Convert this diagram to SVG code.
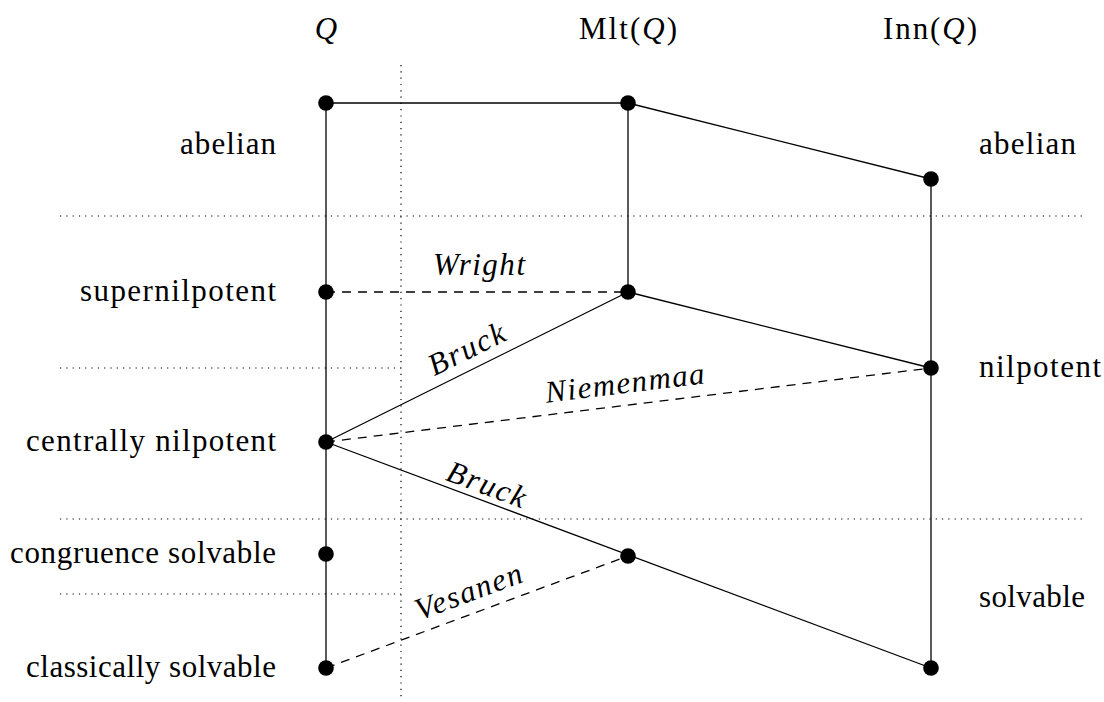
<svg xmlns="http://www.w3.org/2000/svg" width="1104" height="702" viewBox="0 0 1104 702">
<style>
text{font-family:'Liberation Serif','Tinos','Times New Roman','DejaVu Serif','Noto Serif',serif;font-size:31px;fill:#000}
.i{font-style:italic}
.e{text-anchor:end}
.m{text-anchor:middle}
.sol{stroke:#000;stroke-width:1.3;fill:none}
.dash{stroke:#000;stroke-width:1.3;fill:none;stroke-dasharray:9 7}
.dot{stroke:#000;stroke-width:1.2;fill:none;stroke-dasharray:1.2 5.1}
.n{fill:#000}
</style>
<rect width="1104" height="702" fill="#fff"/>
<g id="grid">
<line class="dot" x1="401" y1="65" x2="401" y2="697"/>
<line class="dot" x1="60" y1="216" x2="1083" y2="216"/>
<line class="dot" x1="60" y1="368" x2="401" y2="368"/>
<line class="dot" x1="60" y1="519" x2="1083" y2="519"/>
<line class="dot" x1="60" y1="594" x2="401" y2="594"/>
</g>
<g id="headers">
<text class="i m" font-family="Liberation Serif, serif" x="326" y="39">Q</text>
<text class="m" font-family="Liberation Serif, serif" x="628" y="39" textLength="98">Mlt(<tspan class="i">Q</tspan>)</text>
<text class="m" font-family="Liberation Serif, serif" x="930" y="39" textLength="94">Inn(<tspan class="i">Q</tspan>)</text>
</g>
<g id="labels">
<text class="e" x="276" y="154" textLength="96">abelian</text>
<text class="e" x="276" y="301" textLength="196">supernilpotent</text>
<text class="e" x="276" y="451" textLength="250">centrally nilpotent</text>
<text class="e" x="276" y="563" textLength="266">congruence solvable</text>
<text class="e" x="276" y="677" textLength="250">classically solvable</text>
<text x="979" y="154" textLength="97">abelian</text>
<text x="979" y="377" textLength="122">nilpotent</text>
<text x="979" y="607" textLength="106">solvable</text>
</g>
<g id="connectors">
<line class="sol" x1="326" y1="103" x2="628" y2="103"/>
<line class="sol" x1="628" y1="103" x2="931" y2="179"/>
<line class="sol" x1="326" y1="103" x2="326" y2="668"/>
<line class="sol" x1="628" y1="103" x2="628" y2="292"/>
<line class="sol" x1="628" y1="292" x2="931" y2="368"/>
<line class="sol" x1="931" y1="179" x2="931" y2="668"/>
<line class="sol" x1="326" y1="442" x2="628" y2="292"/>
<line class="sol" x1="326" y1="442" x2="931" y2="668"/>
<line class="dash" x1="326" y1="292" x2="628" y2="292"/>
<line class="dash" x1="326" y1="442" x2="931" y2="368"/>
<line class="dash" x1="326" y1="668" x2="628" y2="556"/>
<text class="i m" x="479" y="275" textLength="92">Wright</text>
<text class="i m" transform="translate(471,358) rotate(-26.4)" textLength="82">Bruck</text>
<text class="i m" transform="translate(626,393) rotate(-7)" textLength="160">Niemenmaa</text>
<text class="i m" transform="translate(483,494) rotate(20.5)" textLength="82">Bruck</text>
<text class="i m" transform="translate(472,601) rotate(-20.3)" textLength="112">Vesanen</text>
</g>
<g id="nodes">
<circle id="q-abelian" class="n" cx="326" cy="103" r="7.8"/>
<circle id="q-supernil" class="n" cx="326" cy="292" r="7.8"/>
<circle id="q-central" class="n" cx="326" cy="442" r="7.8"/>
<circle id="q-congruence" class="n" cx="326" cy="554" r="7.8"/>
<circle id="q-classical" class="n" cx="326" cy="668" r="7.8"/>
<circle id="mlt-abelian" class="n" cx="628" cy="103" r="7.8"/>
<circle id="mlt-nil" class="n" cx="628" cy="292" r="7.8"/>
<circle id="mlt-solv" class="n" cx="628" cy="556" r="7.8"/>
<circle id="inn-abelian" class="n" cx="931" cy="179" r="7.8"/>
<circle id="inn-nil" class="n" cx="931" cy="368" r="7.8"/>
<circle id="inn-solv" class="n" cx="931" cy="668" r="7.8"/>
</g>
</svg>
